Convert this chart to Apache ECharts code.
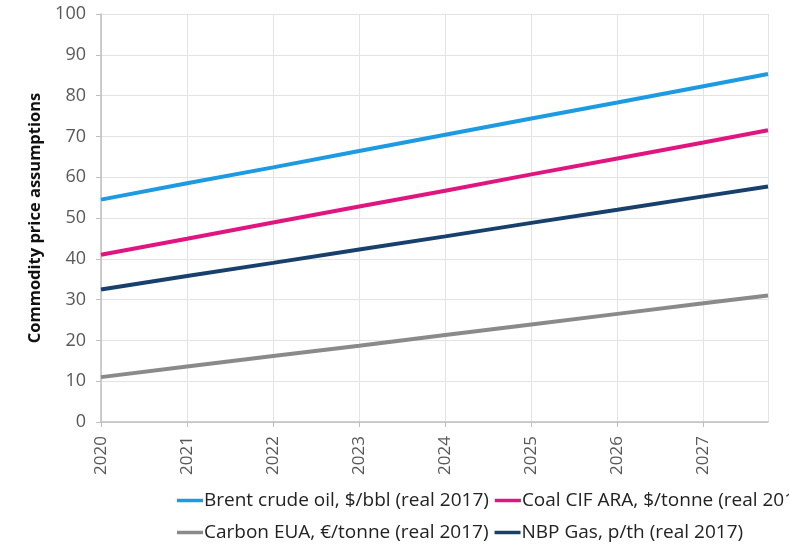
<!DOCTYPE html>
<html><head><meta charset="utf-8">
<script src="https://cdn.jsdelivr.net/npm/echarts@6/dist/echarts.min.js"></script>
<style>html,body{margin:0;padding:0;background:#fff}#c{width:789px;height:550px}</style>
</head><body><div id="c"></div>
<script>
const years = [2020, 2021, 2022, 2023, 2024, 2025, 2026, 2027, 2027.75];
const brent = [54.5, 58.5, 62.4, 66.4, 70.4, 74.4, 78.3, 82.3, 85.3];
const coal = [41.0, 44.9, 48.9, 52.8, 56.7, 60.7, 64.6, 68.5, 71.5];
const carbon = [11.0, 13.6, 16.2, 18.7, 21.3, 23.9, 26.5, 29.1, 31.0];
const nbp = [32.5, 35.8, 39.0, 42.3, 45.5, 48.8, 52.0, 55.3, 57.7];
const names = ["Brent crude oil, $/bbl (real 2017)", "Coal CIF ARA, $/tonne (real 2017)", "Carbon EUA, €/tonne (real 2017)", "NBP Gas, p/th (real 2017)"];
const colors = ["#1d9be2", "#e0157f", "#8a8a8a", "#17406d"];
const seriesVals = [brent, coal, carbon, nbp];

const chart = echarts.init(document.getElementById('c'), null, {renderer: 'canvas'});
const font = "'Open Sans', 'Noto Sans', sans-serif";
const legendCommon = {
  orient: 'horizontal', left: 172, width: 3000, itemGap: 6,
  icon: 'rect', itemWidth: 26, itemHeight: 3.5,
  textStyle: {fontFamily: font, fontSize: 19, color: '#222', padding: [0,0,0,-4]}
};
chart.setOption({
  animation: false,
  grid: {left: 101, right: 21, top: 14, bottom: 128, containLabel: false},
  legend: [
    Object.assign({top: 486, data: [names[0], names[1]]}, legendCommon),
    Object.assign({top: 518, data: [names[2], names[3]]}, legendCommon)
  ],
  xAxis: {
    type: 'value', min: 2020, max: 2027.75, interval: 1,
    axisLine: {show: true, lineStyle: {color: '#bfbfbf', width: 1.5}},
    axisTick: {show: true, length: 5, lineStyle: {color: '#bfbfbf'}},
    splitLine: {show: true, lineStyle: {color: '#e3e3e3'}},
    axisLabel: {rotate: 90, margin: 14, color: '#595959', fontFamily: font, fontSize: 17,
      formatter: v => (Number.isInteger(v) ? String(v) : ''), showMaxLabel: false}
  },
  yAxis: {
    type: 'value', min: 0, max: 100, interval: 10,
    name: 'Commodity price assumptions', nameLocation: 'middle', nameGap: 57, nameRotate: 90,
    nameTextStyle: {fontFamily: font, fontSize: 16.5, fontWeight: 'bold', color: '#111'},
    axisLine: {show: true, lineStyle: {color: '#bfbfbf', width: 1.5}},
    axisTick: {show: true, length: 5, lineStyle: {color: '#bfbfbf'}},
    splitLine: {show: true, lineStyle: {color: '#e3e3e3'}},
    axisLabel: {margin: 15, color: '#595959', fontFamily: font, fontSize: 18}
  },
  series: seriesVals.map((vals, i) => ({
    name: names[i], type: 'line', showSymbol: false, symbol: 'none',
    data: years.map((y, k) => [y, vals[k]]),
    lineStyle: {color: colors[i], width: 4}, itemStyle: {color: colors[i]}
  }))
});
</script></body></html>
